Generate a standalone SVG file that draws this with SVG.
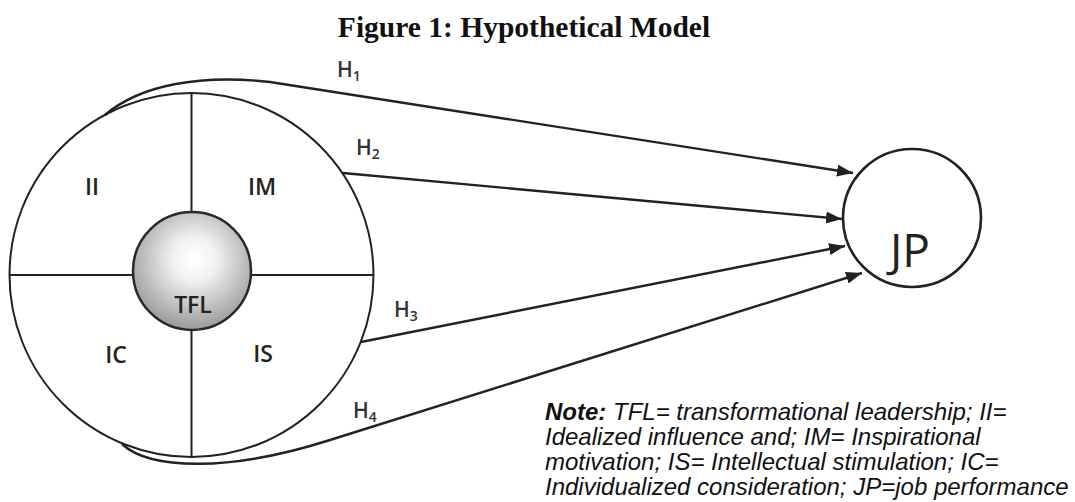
<svg xmlns="http://www.w3.org/2000/svg" width="1075" height="502" viewBox="0 0 1075 502">
<defs>
<radialGradient id="sphere" cx="0.52" cy="0.4" r="0.6">
<stop offset="0" stop-color="#ffffff"/>
<stop offset="0.3" stop-color="#f2f2f2"/>
<stop offset="1" stop-color="#9a9a9a"/>
</radialGradient>
<marker id="arr" markerUnits="userSpaceOnUse" markerWidth="17" markerHeight="13" refX="16" refY="6" orient="auto">
<path d="M0 0 L16 6 L0 12 z" fill="#222"/>
</marker>
<style>
.ln{fill:none;stroke:#222;stroke-width:2}
.con{fill:none;stroke:#222;stroke-width:2.4}
.lbl{font-family:"Open Sans","Liberation Sans",sans-serif;font-weight:600;font-size:23px;fill:#222;text-anchor:middle}
.h{font-family:"Open Sans","Liberation Sans",sans-serif;font-weight:600;font-size:21px;fill:#333}
.note{font-family:"Liberation Sans",Arial,sans-serif;font-style:italic;font-size:24px;fill:#111}
</style>
</defs>
<rect width="1075" height="502" fill="#fff"/>
<text x="524" y="37" text-anchor="middle" font-family="Liberation Serif,serif" font-weight="bold" font-size="29.5" fill="#111">Figure 1: Hypothetical Model</text>

<g id="TFL-model">
<circle cx="191.5" cy="275" r="182" class="ln"/>
<line x1="10" y1="275" x2="373" y2="275" class="ln"/>
<line x1="191.5" y1="93" x2="191.5" y2="457" class="ln"/>
</g>
<g id="II"><text x="92" y="195" class="lbl">II</text></g>
<g id="IM"><text x="262" y="195" class="lbl">IM</text></g>
<g id="IC"><text x="116" y="363" class="lbl">IC</text></g>
<g id="IS"><text x="263" y="362" class="lbl">IS</text></g>
<g id="TFL">
<circle cx="192" cy="271" r="59" fill="url(#sphere)" stroke="#2a2a2a" stroke-width="2.5"/>
<text x="193" y="313" class="lbl">TFL</text>
</g>

<g id="JP">
<circle cx="912" cy="218" r="69" fill="none" stroke="#222" stroke-width="2.6"/>
<text x="910" y="267" text-anchor="middle" font-family="Open Sans,Liberation Sans,sans-serif" font-size="46" fill="#222">JP</text>
</g>

<g id="connectors">
<path d="M105 115 C140 85 200 74 270 82 L853 173" class="con" marker-end="url(#arr)"/>
<path d="M343 173 L842 219" class="con" marker-end="url(#arr)"/>
<path d="M361 342 L845 246" class="con" marker-end="url(#arr)"/>
<path d="M122 444 C150 470 230 472 330 440 L862 273" class="con" marker-end="url(#arr)"/>
<text x="337" y="77" class="h">H<tspan font-size="14" dy="4">1</tspan></text>
<text x="356" y="155" class="h">H<tspan font-size="14" dy="4">2</tspan></text>
<text x="394" y="317" class="h">H<tspan font-size="14" dy="4">3</tspan></text>
<text x="353" y="418" class="h">H<tspan font-size="14" dy="4">4</tspan></text>
</g>

<g id="note">
<text x="545" y="420" class="note"><tspan font-weight="bold">Note:</tspan> TFL= transformational leadership; II=</text>
<text x="545" y="445" class="note">Idealized influence and; IM= Inspirational</text>
<text x="545" y="470" class="note">motivation; IS= Intellectual stimulation; IC=</text>
<text x="545" y="495" class="note">Individualized consideration; JP=job performance</text>
</g>
</svg>
